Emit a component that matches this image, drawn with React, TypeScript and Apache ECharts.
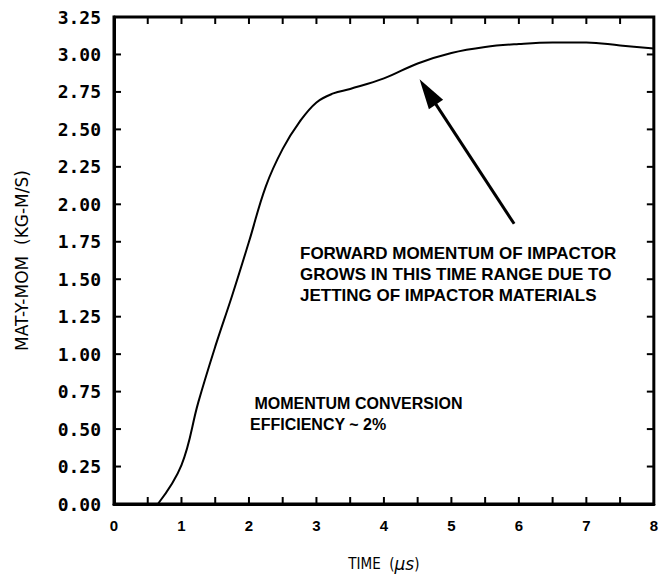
import React, { useEffect, useRef } from "react";
import * as echarts from "echarts";

const timeUs = [0.65, 1.0, 1.25, 1.5, 1.75, 2.0, 2.25, 2.5, 2.75, 3.0, 3.25, 3.5, 4.0, 4.5, 5.0, 5.5, 6.0, 6.5, 7.0, 7.5, 8.0];
const matYMom = [0.0, 0.26, 0.68, 1.05, 1.39, 1.75, 2.12, 2.37, 2.55, 2.68, 2.74, 2.77, 2.84, 2.94, 3.01, 3.05, 3.07, 3.08, 3.08, 3.06, 3.04];

const X_MIN = 0;
const X_MAX = 8;
const Y_MIN = 0;
const Y_MAX = 3.25;
const xTickValues = [0.5, 1, 1.5, 2, 2.5, 3, 3.5, 4, 4.5, 5, 5.5, 6, 6.5, 7, 7.5];
const yTickValues = [0.25, 0.5, 0.75, 1.0, 1.25, 1.5, 1.75, 2.0, 2.25, 2.5, 2.75, 3.0];

const arrowFrom = [5.93, 1.87];
const arrowTo = [4.65, 2.75];

const noteJetting = [
  "FORWARD MOMENTUM OF IMPACTOR",
  "GROWS IN THIS TIME RANGE DUE TO",
  "JETTING OF IMPACTOR MATERIALS",
];
const noteEfficiency = ["MOMENTUM CONVERSION", "EFFICIENCY ~ 2%"];

const GRID = { left: 114, right: 3, top: 17, bottom: 71 };
const W = 661;
const H = 577;

export default function App() {
  const ref = useRef<HTMLDivElement>(null);
  useEffect(() => {
    if (!ref.current) return;
    const chart = echarts.init(ref.current, null, { renderer: "svg" });
    const data = timeUs.map((t, i) => [t, matYMom[i]]);
    const texts = [
      {
        id: "note1",
        type: "text",
        left: 300,
        top: 243,
        z: 50,
        style: {
          text: noteJetting.join("\n"),
          font: "bold 17px 'Liberation Sans', Arial, sans-serif",
          lineHeight: 21,
          fill: "#000",
        },
      },
      {
        id: "note2",
        type: "text",
        left: 250,
        top: 393,
        z: 50,
        style: {
          text: " " + noteEfficiency[0] + "\n" + noteEfficiency[1],
          font: "bold 16px 'Liberation Sans', Arial, sans-serif",
          lineHeight: 21,
          fill: "#000",
        },
      },
    ];
    chart.setOption({
      animation: false,
      backgroundColor: "#fff",
      grid: GRID,
      xAxis: {
        type: "value",
        min: X_MIN,
        max: X_MAX,
        interval: 1,
        axisLine: { show: true, onZero: false, lineStyle: { color: "#000", width: 3 } },
        axisTick: { show: false },
        splitLine: { show: false },
        axisLabel: { color: "#000", fontFamily: "Liberation Sans, Arial, sans-serif", fontWeight: "bold", fontSize: 15, margin: 14 },
        name: "TIME  ({it|μs})",
        nameLocation: "middle",
        nameGap: 51,
        nameTextStyle: {
          color: "#000",
          fontFamily: "DejaVu Sans Condensed, DejaVu Sans, sans-serif",
          fontSize: 15,
          rich: { it: { fontStyle: "italic", fontSize: 17, fontFamily: "DejaVu Sans, sans-serif", color: "#000" } },
        },
      },
      yAxis: {
        type: "value",
        min: Y_MIN,
        max: Y_MAX,
        interval: 0.25,
        axisLine: { show: true, onZero: false, lineStyle: { color: "#000", width: 3 } },
        axisTick: { show: false },
        splitLine: { show: false },
        axisLabel: {
          color: "#000",
          fontFamily: "DejaVu Sans Mono, monospace",
          fontWeight: "bold",
          fontSize: 18,
          margin: 13,
          formatter: (v: number) => v.toFixed(2),
        },
        name: "MAT-Y-MOM  (KG-M/S)",
        nameLocation: "middle",
        nameGap: 84,
        nameTextStyle: {
          color: "#000",
          fontFamily: "DejaVu Sans, sans-serif",
          fontSize: 17,
        },
      },
      series: [
        {
          type: "line",
          data,
          smooth: 0.4,
          showSymbol: false,
          lineStyle: { color: "#000", width: 2 },
          markLine: {
            silent: true,
            symbol: ["none", "triangle"],
            symbolSize: [17, 30],
            label: { show: false },
            lineStyle: { color: "#000", width: 3, type: "solid" },
            data: [[{ coord: arrowFrom }, { coord: arrowTo }]],
          },
        },
      ],
      graphic: { elements: texts },
    });

    const toPx = (x: number, y: number) => chart.convertToPixel({ gridIndex: 0 }, [x, y]) as number[];
    const TL = 7;
    const TW = 2;
    const bl = toPx(X_MIN, Y_MIN);
    const tr = toPx(X_MAX, Y_MAX);
    const tickEls: any[] = [];
    tickEls.push({
      id: "frame",
      type: "rect",
      z: 100,
      silent: true,
      shape: { x: bl[0], y: tr[1], width: tr[0] - bl[0], height: bl[1] - tr[1] },
      style: { fill: "none", stroke: "#000", lineWidth: 3 },
    });
    xTickValues.forEach((v, i) => {
      const p = toPx(v, Y_MIN);
      tickEls.push({ id: "xb" + i, type: "rect", z: 100, silent: true, shape: { x: p[0] - TW / 2, y: bl[1] - TL, width: TW, height: TL }, style: { fill: "#000" } });
      tickEls.push({ id: "xt" + i, type: "rect", z: 100, silent: true, shape: { x: p[0] - TW / 2, y: tr[1], width: TW, height: TL }, style: { fill: "#000" } });
    });
    yTickValues.forEach((v, i) => {
      const p = toPx(X_MIN, v);
      tickEls.push({ id: "yl" + i, type: "rect", z: 100, silent: true, shape: { x: bl[0], y: p[1] - TW / 2, width: TL, height: TW }, style: { fill: "#000" } });
      tickEls.push({ id: "yr" + i, type: "rect", z: 100, silent: true, shape: { x: tr[0] - TL, y: p[1] - TW / 2, width: TL, height: TW }, style: { fill: "#000" } });
    });
    chart.setOption({ graphic: { elements: [...texts, ...tickEls] } });
    return () => chart.dispose();
  }, []);
  return <div ref={ref} style={{ position: "fixed", left: 0, top: 0, width: W, height: H, background: "#fff" }} />;
}
